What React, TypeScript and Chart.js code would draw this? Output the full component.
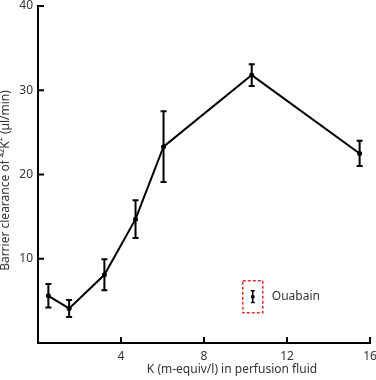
import React, { useEffect, useRef } from "react";
import { Chart, registerables } from "chart.js";

Chart.register(...registerables);

const kValues = [0.5, 1.5, 3.2, 4.7, 6.05, 10.3, 15.5];
const clearance = [5.6, 4.1, 8.1, 14.7, 23.3, 31.8, 22.5];
const clearanceErr = [1.4, 1.0, 1.85, 2.25, 4.2, 1.3, 1.5];

const ouabainK = [10.35];
const ouabainClearance = [5.5];
const ouabainErr = [0.7];

const xTicks = [4, 8, 12, 16];
const yTicks = [10, 20, 30, 40];

const xTitle = "K (m-equiv/l) in perfusion fluid";
const yTitle = "Barrier clearance of \u2074\u00b2K\u207a (\u00b5l/min)";
const ouabainLabel = "Ouabain";

const FONT = "'Noto Sans', 'Open Sans', 'DejaVu Sans', sans-serif";
const TEXT = "#333333";

const errorBarPlugin = {
  id: "errorBars",
  afterDatasetsDraw(chart: any) {
    const ctx = chart.ctx;
    const y = chart.scales.y;
    chart.data.datasets.forEach((ds: any, di: number) => {
      const meta = chart.getDatasetMeta(di);
      const errs: number[] = ds.errors || [];
      const cap = ds.capHalf || 3;
      ctx.save();
      ctx.strokeStyle = "#000";
      ctx.lineWidth = ds.errWidth || 2;
      meta.data.forEach((pt: any, i: number) => {
        const v = ds.data[i].y;
        const e = errs[i];
        if (e == null) return;
        const top = y.getPixelForValue(v + e);
        const bot = y.getPixelForValue(v - e);
        ctx.beginPath();
        ctx.moveTo(pt.x, top);
        ctx.lineTo(pt.x, bot);
        ctx.moveTo(pt.x - cap, top);
        ctx.lineTo(pt.x + cap, top);
        ctx.moveTo(pt.x - cap, bot);
        ctx.lineTo(pt.x + cap, bot);
        ctx.stroke();
      });
      ctx.restore();
      if (ds.boxed) {
        const pt = meta.data[0];
        ctx.save();
        ctx.strokeStyle = "#e8302a";
        ctx.lineWidth = 1.5;
        ctx.setLineDash([3, 2]);
        ctx.strokeRect(pt.x - 10, pt.y - 16, 20, 32);
        ctx.setLineDash([]);
        ctx.fillStyle = TEXT;
        ctx.font = `12px ${FONT}`;
        ctx.textAlign = "left";
        ctx.textBaseline = "middle";
        ctx.fillText(ouabainLabel, pt.x + 19, pt.y);
        ctx.restore();
      }
    });
  },
};

const axesPlugin = {
  id: "axesDecor",
  afterDraw(chart: any) {
    const ctx = chart.ctx;
    const { left, right, top, bottom } = chart.chartArea;
    const xs = chart.scales.x;
    const ys = chart.scales.y;
    ctx.save();
    ctx.strokeStyle = "#000";
    ctx.lineWidth = 2;
    ctx.beginPath();
    xTicks.forEach((t) => {
      const px = xs.getPixelForValue(t);
      ctx.moveTo(px, bottom);
      ctx.lineTo(px, bottom - 6);
    });
    yTicks.forEach((t) => {
      const py = ys.getPixelForValue(t);
      ctx.moveTo(left, py);
      ctx.lineTo(left + 6, py);
    });
    ctx.stroke();
    ctx.fillStyle = TEXT;
    ctx.font = `12px ${FONT}`;
    ctx.textAlign = "center";
    ctx.textBaseline = "middle";
    ctx.fillText(xTitle, (left + right) / 2 + 28, bottom + 27);
    ctx.translate(6, (top + bottom) / 2 + 6);
    ctx.rotate(-Math.PI / 2);
    ctx.fillText(yTitle, 0, 0);
    ctx.restore();
  },
};

export default function App() {
  const ref = useRef<HTMLCanvasElement | null>(null);
  useEffect(() => {
    if (!ref.current) return;
    const chart = new Chart(ref.current, {
      type: "line",
      data: {
        datasets: [
          {
            data: kValues.map((k, i) => ({ x: k, y: clearance[i] })),
            borderColor: "#000",
            backgroundColor: "#000",
            borderWidth: 2,
            pointRadius: 2.5,
            pointBorderWidth: 0,
            tension: 0,
            errors: clearanceErr,
            capHalf: 3,
          } as any,
          {
            data: ouabainK.map((k, i) => ({ x: k, y: ouabainClearance[i] })),
            borderColor: "#000",
            backgroundColor: "#000",
            showLine: false,
            pointRadius: 2,
            pointBorderWidth: 0,
            errors: ouabainErr,
            capHalf: 2,
            errWidth: 1.5,
            boxed: true,
          } as any,
        ],
      },
      options: {
        animation: false,
        responsive: false,
        layout: { padding: { top: 6, right: 6, left: 0, bottom: 0 } },
        plugins: { legend: { display: false }, tooltip: { enabled: false } },
        scales: {
          x: {
            type: "linear",
            min: 0,
            max: 16,
            afterFit: (s: any) => {
              s.height = 37;
              s.paddingLeft = 0;
              s.paddingRight = 0;
            },
            grid: { display: false, drawTicks: false },
            border: { display: true, color: "#000", width: 2 },
            ticks: {
              stepSize: 4,
              padding: 6,
              color: TEXT,
              font: { family: FONT, size: 12 },
              callback: (v: any) => (v === 0 ? "" : String(v)),
            },
          },
          y: {
            min: 0,
            max: 40,
            afterFit: (s: any) => {
              s.width = 38;
              s.paddingTop = 0;
              s.paddingBottom = 0;
            },
            grid: { display: false, drawTicks: false },
            border: { display: true, color: "#000", width: 2 },
            ticks: {
              stepSize: 10,
              padding: 5,
              color: TEXT,
              font: { family: FONT, size: 12 },
              callback: (v: any) => (v === 0 ? "" : String(v)),
            },
          },
        },
      } as any,
      plugins: [errorBarPlugin, axesPlugin],
    });
    return () => chart.destroy();
  }, []);
  return (
    <div style={{ position: "absolute", left: 0, top: 0, width: 376, height: 380, background: "#fff" }}>
      <canvas ref={ref} width={376} height={380} style={{ display: "block" }} />
    </div>
  );
}
